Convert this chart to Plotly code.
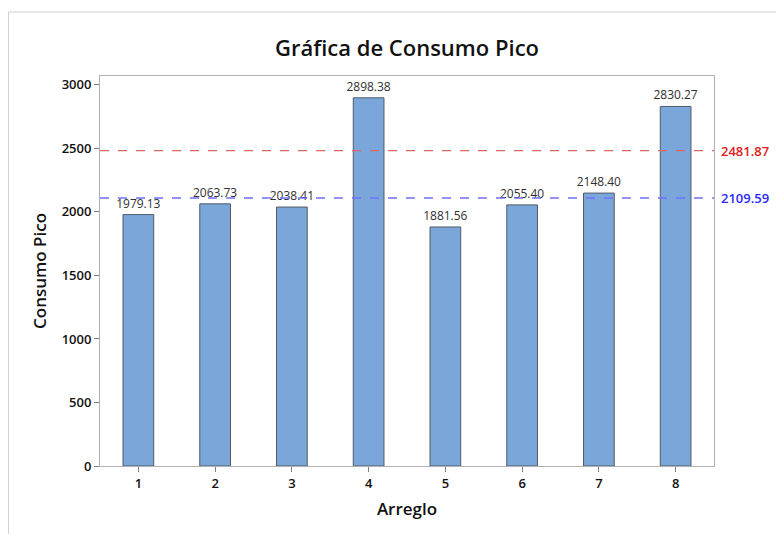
import plotly.graph_objects as go

# Data
arreglos = [1, 2, 3, 4, 5, 6, 7, 8]
consumo_pico = [1979.13, 2063.73, 2038.41, 2898.38, 1881.56, 2055.40, 2148.40, 2830.27]
y_ticks = [0, 500, 1000, 1500, 2000, 2500, 3000]
ref_values = [2481.87, 2109.59]
ref_line_colors = ["#e06666", "#7070ff"]
ref_text_colors = ["#e02020", "#2a2aff"]

FONT = "Open Sans"

fig = go.Figure()

fig.add_trace(
    go.Bar(
        x=arreglos,
        y=consumo_pico,
        width=0.4,
        marker=dict(color="#7ba6d9", line=dict(color="#505a66", width=1)),
        texttemplate="%{y:.2f}",
        textposition="outside",
        constraintext="none",
        textfont=dict(family=FONT, size=12, color="#303030"),
        cliponaxis=False,
        showlegend=False,
        hoverinfo="x+y",
    )
)

# Reference lines with labels outside the plot area on the right
for val, lc, tc in zip(ref_values, ref_line_colors, ref_text_colors):
    fig.add_shape(
        type="line", xref="paper", yref="y",
        x0=0, x1=1, y0=val, y1=val,
        line=dict(color=lc, width=1.3, dash="dash"),
    )
    fig.add_annotation(
        xref="paper", yref="y", x=1.008, y=val,
        text=f"{val:.2f}", showarrow=False, xanchor="left",
        font=dict(family=FONT, size=13, color=tc, weight=600),
    )

# Outer window frame (page body keeps an 8px margin, so it starts at the figure edge)
fig.add_shape(
    type="rect", xref="paper", yref="paper",
    x0=-0.149, x1=1.2, y0=-0.3, y1=1.164,
    line=dict(color="#d0d0d0", width=1), layer="below",
)

# page body keeps an 8px margin, so the figure is sized to 776x526
fig.update_layout(
    width=776,
    height=526,
    margin=dict(l=92, r=70, t=68, b=68),
    paper_bgcolor="white",
    plot_bgcolor="white",
    title=dict(
        text="Gráfica de Consumo Pico",
        x=0.5, xref="paper", xanchor="center",
        y=0.924, yref="container", yanchor="middle",
        font=dict(family=FONT, size=22, color="#111111", weight=600),
    ),
    font=dict(family=FONT, color="#111111"),
    xaxis=dict(
        title=dict(text="Arreglo", font=dict(size=17, weight=600), standoff=12),
        range=[0.5, 8.5],
        tickmode="array", tickvals=arreglos,
        ticks="outside", ticklen=5, tickcolor="#808080",
        tickfont=dict(size=13, weight=600),
        showline=True, linecolor="#b0b0b0", mirror=True,
        showgrid=False, zeroline=False,
    ),
    yaxis=dict(
        title=dict(text="Consumo Pico", font=dict(size=17, weight=600), standoff=10),
        range=[0, 3070],
        tickmode="array", tickvals=y_ticks,
        ticks="outside", ticklen=5, tickcolor="#808080",
        tickfont=dict(size=13, weight=600),
        showline=True, linecolor="#b0b0b0", mirror=True,
        showgrid=False, zeroline=False,
    ),
    bargap=0.6,
)

fig.write_html("out.html")
